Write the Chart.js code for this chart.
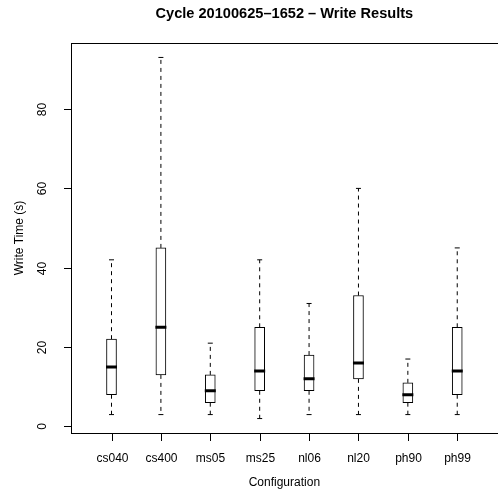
<!DOCTYPE html>
<html>
<head>
<meta charset="utf-8">
<script src="https://cdn.jsdelivr.net/npm/chart.js@4"></script>
<style>
    html, body { margin: 0; padding: 0; background: #fff; overflow: hidden; }
    #wrap { width: 498px; height: 497px; }
</style>
</head>
<body>
<div id="wrap"><canvas id="boxChart" width="498" height="497"></canvas></div>
<script>
// Write times per configuration
const configs = ['cs040', 'cs400', 'ms05', 'ms25', 'nl06', 'nl20', 'ph90', 'ph99'];
const whiskerLow = [3, 3, 3, 2, 3, 3, 3, 3];
const q1 = [8, 13, 6, 9, 9, 12, 6, 8];
const medians = [15, 25, 9, 14, 12, 16, 8, 14];
const q3 = [22, 45, 13, 25, 18, 33, 11, 25];
const whiskerHigh = [42, 93, 21, 42, 31, 60, 17, 45];
const yTicks = [0, 20, 40, 60, 80];

const FONT = '"Liberation Sans", Arial, Helvetica, sans-serif';

// Build dataset points
const xs = configs.map((c, i) => i + 1);
const boxData = xs.map((x, i) => ({ x: x, y: [q1[i], q3[i]] }));
const medianData = xs.map((x, i) => ({ x: x, y: medians[i] }));
const capData = [];
const whiskerData = [];
xs.forEach((x, i) => {
    capData.push({ x: x, y: whiskerHigh[i] }, { x: x, y: whiskerLow[i] });
    // whiskers start at the box edge, like R's segments()
    whiskerData.push({ x: x, y: q3[i] }, { x: x, y: whiskerHigh[i] }, { x: x, y: null });
    whiskerData.push({ x: x, y: q1[i] }, { x: x, y: whiskerLow[i] }, { x: x, y: null });
});

// Frame, axes and text in the R base-graphics style
const rAxes = {
    id: 'rAxes',
    afterDraw(chart) {
        const ctx = chart.ctx;
        const area = chart.chartArea;
        const xScale = chart.scales.x;
        const yScale = chart.scales.y;
        ctx.save();
        ctx.strokeStyle = '#000';
        ctx.lineWidth = 1;

        // plot frame (right edge falls outside the picture)
        ctx.strokeRect(Math.round(area.left) + 0.5, Math.round(area.top) + 0.5,
            area.right - area.left + 20, Math.round(area.bottom - area.top));

        ctx.fillStyle = '#000';
        ctx.font = '12px ' + FONT;

        // y axis ticks + rotated labels
        yTicks.forEach(v => {
            const py = Math.round(yScale.getPixelForValue(v)) + 0.5;
            ctx.beginPath();
            ctx.moveTo(area.left, py);
            ctx.lineTo(area.left - 7, py);
            ctx.stroke();
            ctx.save();
            ctx.translate(46, py);
            ctx.rotate(-Math.PI / 2);
            ctx.textAlign = 'center';
            ctx.textBaseline = 'alphabetic';
            ctx.fillText(String(v), 0, 0);
            ctx.restore();
        });

        // x axis ticks + labels
        configs.forEach((c, i) => {
            const px = Math.round(xScale.getPixelForValue(i + 1)) + 0.5;
            ctx.beginPath();
            ctx.moveTo(px, area.bottom);
            ctx.lineTo(px, area.bottom + 8);
            ctx.stroke();
            ctx.textAlign = 'center';
            ctx.textBaseline = 'alphabetic';
            ctx.fillText(c, px, 461.5);
        });

        // axis titles
        const midX = (xScale.getPixelForValue(0.18) + xScale.getPixelForValue(8.82)) / 2;
        ctx.textAlign = 'center';
        ctx.fillText('Configuration', midX, 485.5);

        ctx.save();
        ctx.translate(23, (area.top + area.bottom) / 2);
        ctx.rotate(-Math.PI / 2);
        ctx.fillText('Write Time (s)', 0, 0);
        ctx.restore();

        // title
        ctx.font = 'bold 14.6px ' + FONT;
        ctx.fillText('Cycle 20100625\u20131652 \u2013 Write Results', midX, 18);
        ctx.restore();
    }
};

const chart = new Chart(document.getElementById('boxChart').getContext('2d'), {
    type: 'bar',
    data: {
        datasets: [
            {
                type: 'scatter',
                label: 'median',
                data: medianData,
                pointStyle: 'line',
                pointRadius: 5.5,
                pointBorderWidth: 3,
                borderColor: '#000',
                backgroundColor: '#000',
                order: 0
            },
            {
                type: 'bar',
                label: 'box',
                data: boxData,
                backgroundColor: '#fff',
                borderColor: '#000',
                borderWidth: 1,
                borderSkipped: false,
                barThickness: 10,
                order: 1
            },
            {
                type: 'scatter',
                label: 'caps',
                data: capData,
                pointStyle: 'line',
                pointRadius: 2.5,
                pointBorderWidth: 1,
                borderColor: '#000',
                order: 2
            },
            {
                type: 'line',
                label: 'whiskers',
                data: whiskerData,
                borderColor: '#000',
                borderWidth: 1,
                borderDash: [4, 4],
                pointRadius: 0,
                spanGaps: false,
                fill: false,
                order: 3
            }
        ]
    },
    options: {
        responsive: false,
        animation: false,
        layout: { padding: { left: 71, top: 43, right: 0, bottom: 64 } },
        scales: {
            x: { type: 'linear', min: 0.18, max: 8.653, offset: false, display: false },
            y: { type: 'linear', min: -1.64, max: 96.64, display: false }
        },
        plugins: {
            legend: { display: false },
            tooltip: { enabled: false },
            title: { display: false }
        }
    },
    plugins: [rAxes]
});
</script>
</body>
</html>
